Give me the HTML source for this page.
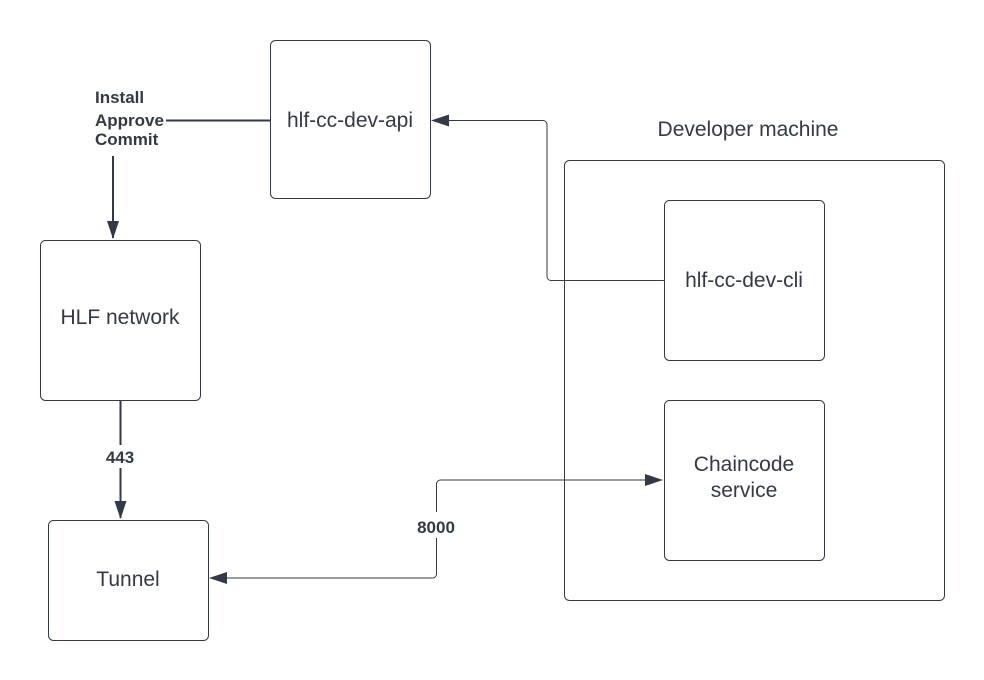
<!DOCTYPE html>
<html><head><style>body{margin:0;background:#fff}svg{display:block}text{font-family:"Liberation Sans",sans-serif;fill:#333a45}</style></head>
<body>
<svg width="984" height="680" viewBox="0 0 984 680" xmlns="http://www.w3.org/2000/svg">
<defs>
<marker id="b" markerWidth="18" markerHeight="12" refX="17" refY="6" orient="auto" markerUnits="userSpaceOnUse"><path d="M0,0 L18,6 L0,12 z" fill="#333a45"/></marker></defs>
<g fill="none" stroke="#333a45" stroke-width="1">
<rect x="270.5" y="40.5" width="160" height="158" rx="5"/>
<rect x="40.5" y="240.5" width="160" height="160" rx="5"/>
<rect x="48.5" y="520.5" width="160" height="120" rx="5"/>
<rect x="564.5" y="160.5" width="380" height="440" rx="5"/>
<rect x="664.5" y="200.5" width="160" height="160" rx="5"/>
<rect x="664.5" y="400.5" width="160" height="160" rx="5"/>
</g>
<g fill="none" stroke="#333a45">
<path d="M270 120.5 H166" stroke-width="2"/>
<path d="M113 156 V238" stroke-width="2" marker-end="url(#b)"/>
<path d="M120.5 400 V445 M120.5 468 V518" stroke-width="2" marker-end="url(#b)"/>
<path d="M664 280.5 H551 a4 4 0 0 1 -4 -4 V124.5 a4 4 0 0 0 -4 -4 H432" stroke-width="1" marker-end="url(#b)"/>
<path d="M436.5 538 V574 a4 4 0 0 1 -4 4 H210" stroke-width="1" marker-end="url(#b)"/>
<path d="M436.5 512 V484 a4 4 0 0 1 4 -4 H662" stroke-width="1" marker-end="url(#b)"/>
</g>
<text x="95" y="103" font-size="17" font-weight="bold">Install</text>
<text x="95" y="126" font-size="17" font-weight="bold">Approve</text>
<text x="95" y="145" font-size="17" font-weight="bold">Commit</text>
<text x="120" y="463" font-size="17" font-weight="bold" text-anchor="middle">443</text>
<text x="436" y="533" font-size="17" font-weight="bold" text-anchor="middle">8000</text>
<text x="350" y="127" font-size="21" text-anchor="middle">hlf-cc-dev-api</text>
<text x="120" y="324" font-size="21" text-anchor="middle">HLF network</text>
<text x="128" y="586" font-size="21" text-anchor="middle">Tunnel</text>
<text x="748" y="136" font-size="21" text-anchor="middle">Developer machine</text>
<text x="744" y="287" font-size="21" text-anchor="middle">hlf-cc-dev-cli</text>
<text x="744" y="471" font-size="21" text-anchor="middle">Chaincode</text>
<text x="744" y="497" font-size="21" text-anchor="middle">service</text>
</svg>
</body></html>
